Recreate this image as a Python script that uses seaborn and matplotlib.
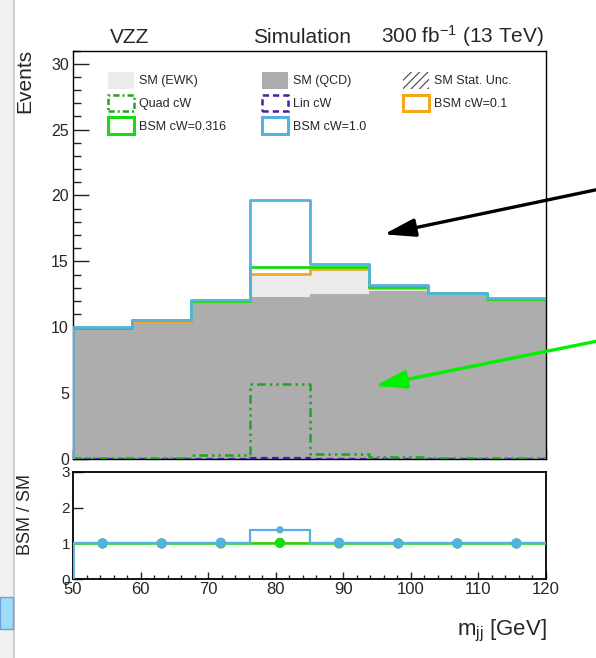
import numpy as np
import pandas as pd
import matplotlib
matplotlib.use("Agg")
import matplotlib.pyplot as plt
import seaborn as sns
from matplotlib.patches import Patch, Rectangle
from matplotlib.ticker import MultipleLocator, NullLocator

# ---------------- data ----------------
bin_edges = [50.0, 58.75, 67.5, 76.25, 85.0, 93.75, 102.5, 111.25, 120.0]
sm_qcd = [9.85, 10.45, 11.85, 12.30, 12.55, 12.75, 12.45, 12.10]
sm_ewk = [0.10, 0.05, 0.05, 1.55, 1.75, 0.12, 0.10, 0.05]
quad_cw = [0.08, 0.10, 0.30, 5.68, 0.38, 0.12, 0.08, 0.06]
lin_cw = [0.01, 0.01, 0.02, 0.04, 0.03, 0.01, 0.01, 0.01]
bsm_cw_01 = [9.95, 10.50, 11.95, 14.05, 14.45, 12.95, 12.55, 12.15]
bsm_cw_0316 = [9.97, 10.52, 11.97, 14.55, 14.55, 13.05, 12.57, 12.17]
bsm_cw_1 = [10.00, 10.55, 12.10, 19.62, 14.82, 13.22, 12.60, 12.20]
ratio_cw_01 = [1.0, 1.0, 1.0, 1.005, 1.0, 1.0, 1.0, 1.0]
ratio_cw_0316 = [1.0, 1.0, 1.0, 1.015, 1.0, 1.0, 1.0, 1.0]
ratio_cw_1 = [1.0, 1.0, 1.02, 1.38, 1.02, 1.0, 1.0, 1.0]

# ---------------- style ----------------
sns.set_style("ticks")
plt.rcParams["font.family"] = ["Liberation Sans", "DejaVu Sans"]
plt.rcParams["mathtext.fontset"] = "custom"
plt.rcParams["mathtext.rm"] = "Liberation Sans"
plt.rcParams["mathtext.it"] = "Liberation Sans:italic"
plt.rcParams["hatch.linewidth"] = 0.8

C_EWK = "#ebebeb"
C_QCD = "#adadad"
C_QUAD = "#1fa51f"
C_LIN = "#4a1ca8"
C_01 = "#f5a81c"
C_0316 = "#14dc14"
C_1 = "#56b0e0"

W, H = 596, 658
fig = plt.figure(figsize=(W / 100, H / 100), dpi=100)

def px_rect(l, t, r, b):
    return [l / W, 1 - b / H, (r - l) / W, (b - t) / H]

# screenshot artefacts on the left edge
fig.add_artist(Rectangle((0, 0), 12.5 / W, 1, transform=fig.transFigure,
                         facecolor="#f1f1f1", edgecolor="none", zorder=0))
fig.add_artist(Rectangle((12.5 / W, 0), 2.5 / W, 1, transform=fig.transFigure,
                         facecolor="#cdcdcd", edgecolor="none", zorder=0))
fig.add_artist(Rectangle((0, 1 - 629 / H), 13 / W, 32 / H, transform=fig.transFigure,
                         facecolor="#9edcf8", edgecolor="#6f9fd2", lw=1.0, zorder=1))

ax = fig.add_axes(px_rect(73, 50.5, 546, 459))
rax = fig.add_axes(px_rect(73, 471.7, 546, 579.3))

centers = [(a + b) / 2 for a, b in zip(bin_edges[:-1], bin_edges[1:])]
n = len(centers)

# ---------------- main panel ----------------
stack_df = pd.DataFrame({
    "mjj": centers * 2,
    "events": sm_ewk + sm_qcd,
    "process": ["SM (EWK)"] * n + ["SM (QCD)"] * n,
})
sns.histplot(data=stack_df, x="mjj", weights="events", hue="process",
             hue_order=["SM (EWK)", "SM (QCD)"], bins=bin_edges,
             multiple="stack", element="step", fill=True,
             palette={"SM (EWK)": C_EWK, "SM (QCD)": C_QCD},
             alpha=1, linewidth=0, legend=False, ax=ax)

def step(axis, vals, color, lw, ls="-", z=3):
    sns.histplot(x=centers, weights=vals, bins=bin_edges, element="step",
                 fill=False, color=color, linewidth=lw, linestyle=ls,
                 ax=axis, zorder=z)

step(ax, lin_cw, C_LIN, 1.6, (0, (3, 2)), 3)
step(ax, quad_cw, C_QUAD, 1.8, (0, (3.5, 1.6, 1, 1.6, 1, 1.6)), 3)
step(ax, bsm_cw_01, C_01, 2.0, "-", 4)
step(ax, bsm_cw_0316, C_0316, 2.0, "-", 5)
step(ax, bsm_cw_1, C_1, 2.0, "-", 6)
ax.vlines(bin_edges[0], 0, bsm_cw_1[0], color=C_1, lw=2.6, zorder=6)

ax.set_xlim(bin_edges[0], bin_edges[-1])
ax.set_ylim(0, 31)
ax.set_xlabel("")
ax.set_ylabel("")
ax.yaxis.set_major_locator(MultipleLocator(5))
ax.yaxis.set_minor_locator(MultipleLocator(1))
ax.xaxis.set_major_locator(MultipleLocator(10))
ax.xaxis.set_minor_locator(MultipleLocator(2))
ax.tick_params(which="both", direction="in", top=False, right=False,
               labelbottom=False, labelsize=11.5, pad=3, color="#222222")
ax.tick_params(axis="y", which="major", length=11.5, width=1.0)
ax.tick_params(axis="y", which="minor", length=5.5, width=1.0)
ax.tick_params(axis="x", which="major", length=7, width=1.0)
ax.tick_params(axis="x", which="minor", length=3, width=1.0)
for sp in ax.spines.values():
    sp.set_visible(True)
    sp.set_linewidth(1.0)
    sp.set_color("black")

# legend
def box(color, ls="-", lw=2.0):
    return Patch(facecolor="none", edgecolor=color, linestyle=ls, linewidth=lw)

handles = [
    Patch(facecolor=C_EWK, edgecolor="none"),
    box(C_QUAD, (0, (2.5, 1.2, 0.8, 1.2)), 1.8),
    box(C_0316, "-", 2.2),
    Patch(facecolor=C_QCD, edgecolor="none"),
    box(C_LIN, (0, (2.5, 1.6)), 1.8),
    box(C_1, "-", 2.2),
    Patch(facecolor="white", edgecolor="#444444", hatch="////", linewidth=0),
    box(C_01, "-", 2.2),
]
labels = ["SM (EWK)", "Quad cW", "BSM cW=0.316",
          "SM (QCD)", "Lin cW", "BSM cW=1.0",
          "SM Stat. Unc.", "BSM cW=0.1"]
ax.legend(handles, labels, ncol=3, frameon=False, loc="upper left",
          bbox_to_anchor=((108 - 73) / 473, (459 - 72) / 408.5),
          borderaxespad=0, borderpad=0, fontsize=9,
          handlelength=2.08, handleheight=1.68, handletextpad=0.4,
          labelspacing=0.48, columnspacing=2.9)

# annotation arrows
ax.annotate("", xy=(96.0, 17.05), xytext=(127.6, 20.45),
            arrowprops=dict(arrowstyle="-|>,head_length=1.9,head_width=0.55",
                            mutation_scale=10, color="black", lw=2.4,
                            shrinkA=0, shrinkB=0),
            annotation_clip=False, zorder=10)
ax.annotate("", xy=(94.7, 5.55), xytext=(127.6, 8.95),
            arrowprops=dict(arrowstyle="-|>,head_length=1.9,head_width=0.55",
                            mutation_scale=10, color="#00f000", lw=2.4,
                            shrinkA=0, shrinkB=0),
            annotation_clip=False, zorder=10)

# ---------------- ratio panel ----------------
step(rax, ratio_cw_01, C_01, 1.6, "-", 3)
step(rax, ratio_cw_0316, C_0316, 1.8, "-", 4)
step(rax, ratio_cw_1, C_1, 1.6, "-", 5)
rax.vlines(bin_edges[0], 0, ratio_cw_1[0], color=C_1, lw=2.0, zorder=5)

peak = int(np.argmax(quad_cw))
is_peak = [i == peak for i in range(n)]
sns.scatterplot(x=centers, y=ratio_cw_0316, color=C_0316, s=55,
                edgecolor="none", ax=rax, zorder=6)
sns.scatterplot(x=[c for c, p in zip(centers, is_peak) if not p],
                y=[r for r, p in zip(ratio_cw_1, is_peak) if not p],
                color=C_1, s=55, edgecolor="none", ax=rax, zorder=7)
sns.scatterplot(x=[c for c, p in zip(centers, is_peak) if p],
                y=[r for r, p in zip(ratio_cw_1, is_peak) if p],
                color=C_1, s=28, edgecolor="none", ax=rax, zorder=7)

rax.set_xlim(bin_edges[0], bin_edges[-1])
rax.set_ylim(0, 3)
rax.set_xlabel("")
rax.set_ylabel("")
rax.yaxis.set_major_locator(MultipleLocator(1))
rax.yaxis.set_minor_locator(NullLocator())
rax.xaxis.set_major_locator(MultipleLocator(10))
rax.xaxis.set_minor_locator(MultipleLocator(2))
rax.tick_params(which="both", direction="in", top=False, right=False,
                pad=2, color="#222222")
rax.tick_params(axis="y", which="major", length=7.5, width=1.0, labelsize=11)
rax.tick_params(axis="x", which="major", length=5, width=1.0, labelsize=12)
rax.tick_params(axis="x", which="minor", length=2.8, width=1.0)
for sp in rax.spines.values():
    sp.set_visible(True)
    sp.set_linewidth(1.3)
    sp.set_color("black")

# ---------------- texts ----------------
fig.text(110 / W, 1 - 42.7 / H, "VZZ", fontsize=15, ha="left", va="baseline")
fig.text(302 / W, 1 - 42.7 / H, "Simulation", fontsize=15, ha="center", va="baseline")
fig.text(544 / W, 1 - 42.7 / H, r"300 fb$^{\mathregular{-1}}$ (13 TeV)", fontsize=15,
         ha="right", va="baseline")
fig.text(25 / W, 1 - 49 / H, "Events", fontsize=15, rotation=90, ha="center", va="top")
fig.text(25.5 / W, 1 - 514.5 / H, "BSM / SM", fontsize=13, rotation=90,
         ha="center", va="center")
fig.text(547 / W, 1 - 635 / H, r"m$_{\mathregular{jj}}$ [GeV]", fontsize=16,
         ha="right", va="baseline")

fig.savefig("out.png", dpi=100)
